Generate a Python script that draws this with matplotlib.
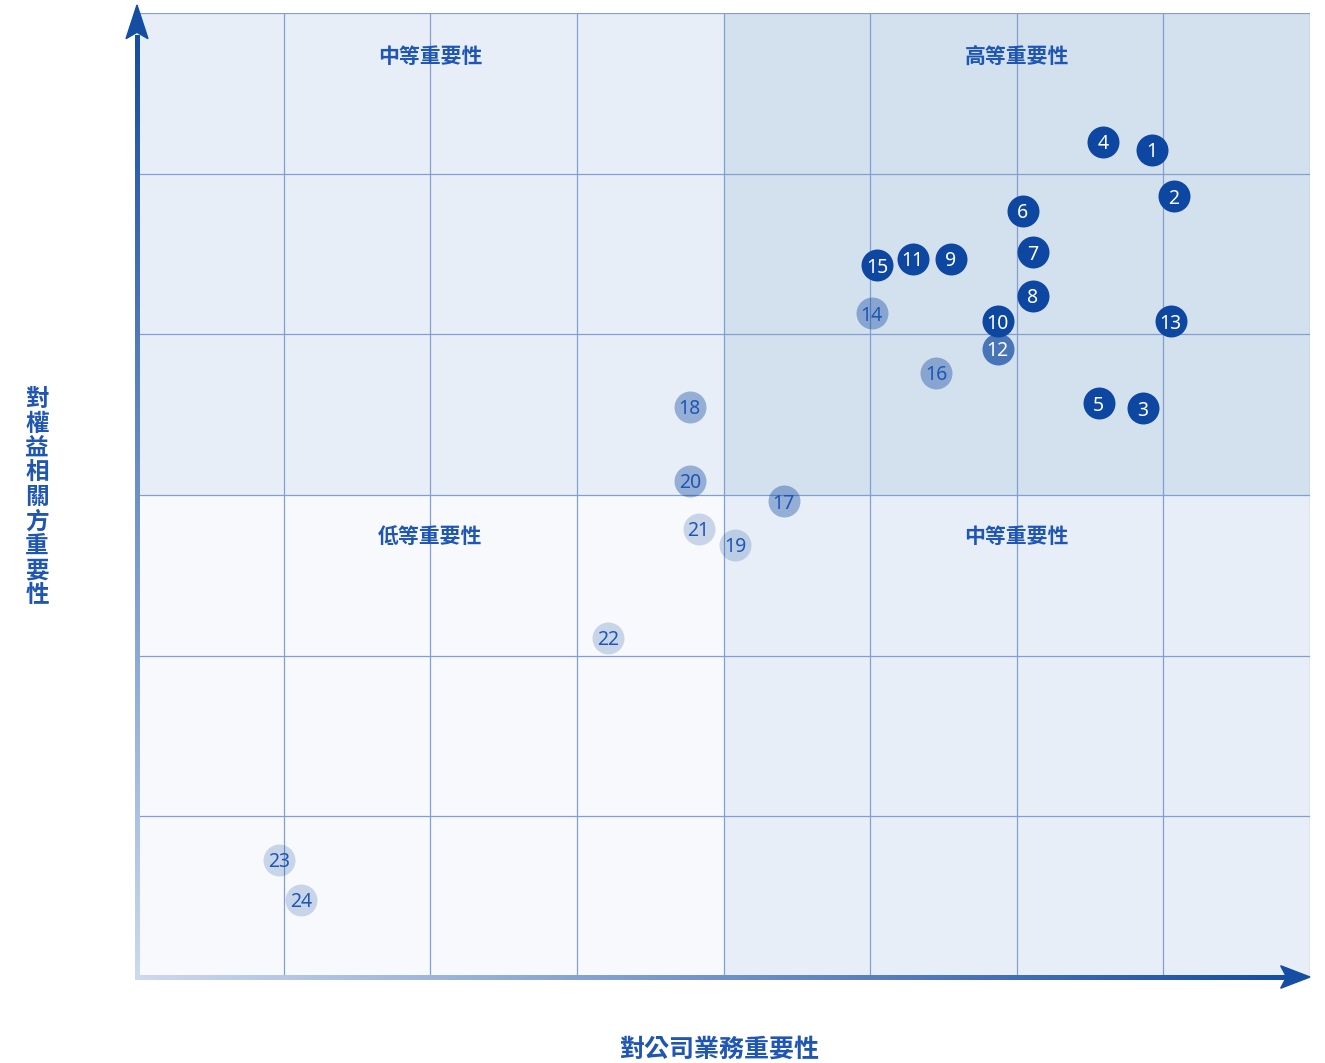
import numpy as np
import matplotlib.pyplot as plt
from matplotlib.collections import LineCollection
from matplotlib.patches import Polygon

plt.rcParams['font.family'] = ['Noto Sans CJK TC', 'DejaVu Sans']

# point data (x: importance to business, y: importance to stakeholders)
ids = [1, 2, 3, 4, 5, 6, 7, 8, 9, 10, 11, 12,
       13, 14, 15, 16, 17, 18, 19, 20, 21, 22, 23, 24]
x_vals = [6.92, 7.07, 6.86, 6.59, 6.56, 6.04, 6.11, 6.11, 5.55, 5.87, 5.29, 5.87,
          7.05, 5.01, 5.05, 5.45, 4.41, 3.77, 4.08, 3.77, 3.83, 3.21, 0.97, 1.12]
y_vals = [5.15, 4.86, 3.54, 5.20, 3.57, 4.77, 4.51, 4.24, 4.47, 4.08, 4.47, 3.91,
          4.08, 4.13, 4.43, 3.76, 2.96, 3.55, 2.69, 3.09, 2.79, 2.11, 0.73, 0.48]
# level: 3 = high, 2 = mid-high, 1 = mid, 0 = low
levels = [3, 3, 3, 3, 3, 3, 3, 3, 3, 3, 3, 2,
          3, 1, 3, 1, 1, 1, 0, 1, 0, 0, 0, 0]

quad_labels = ['中等重要性', '高等重要性', '低等重要性', '中等重要性']
x_label = '對公司業務重要性'
y_label = '對權益相關方重要性'

base = '#0d47a1'
text_blue = '#1f56b3'
alphas = {3: 1.0, 2: 0.7, 1: 0.38, 0: 0.2}

W, H = 1325, 1063
fig = plt.figure(figsize=(W / 100, H / 100), dpi=100)
ax = fig.add_axes([137 / W, 1 - 977 / H, (1310 - 137) / W, (977 - 13) / H])
ax.set_xlim(0, 8)
ax.set_ylim(0, 6)
ax.axis('off')

# quadrant backgrounds
ax.add_patch(plt.Rectangle((0, 3), 4, 3, color='#e7eef7', zorder=0, lw=0))
ax.add_patch(plt.Rectangle((4, 3), 4, 3, color='#d3e0ee', zorder=0, lw=0))
ax.add_patch(plt.Rectangle((0, 0), 4, 3, color='#f7f9fc', zorder=0, lw=0))
ax.add_patch(plt.Rectangle((4, 0), 4, 3, color='#e7eef7', zorder=0, lw=0))

# grid
grid_c = '#819fd2'
for gx in range(1, 9):
    ax.plot([gx, gx], [0, 6], color=grid_c, lw=0.9, zorder=1)
for gy in range(1, 7):
    ax.plot([0, 8], [gy, gy], color=grid_c, lw=0.9, zorder=1)

# quadrant labels
for (qx, qy), lab in zip([(2, 5.73), (6, 5.73), (2, 2.74), (6, 2.74)], quad_labels):
    ax.text(qx, qy, lab, ha='center', va='center', fontsize=15,
            fontweight='bold', color=text_blue)

# gradient axis arrows
light = np.array([0.80, 0.85, 0.93])
dark = np.array([0.08, 0.30, 0.63])
n = 300
cols = [light + (dark - light) * (i / n) for i in range(n)]
ty = np.linspace(0, 5.85, n + 1)
segs = [[(0, ty[i]), (0, ty[i + 1])] for i in range(n)]
ax.add_collection(LineCollection(segs, colors=cols, linewidths=3.5,
                                 clip_on=False, zorder=4, capstyle='projecting',
                                 antialiaseds=False))
ax.add_patch(Polygon([(-0.075, 5.84), (0, 6.05), (0.075, 5.84), (0, 5.88)],
                     closed=True, color=dark, clip_on=False, zorder=5))

tx = np.linspace(0, 7.85, n + 1)
segs = [[(tx[i], 0), (tx[i + 1], 0)] for i in range(n)]
ax.add_collection(LineCollection(segs, colors=cols, linewidths=3.5,
                                 clip_on=False, zorder=4, capstyle='projecting',
                                 antialiaseds=False))
ax.add_patch(Polygon([(7.8, -0.07), (8.0, 0), (7.8, 0.07), (7.84, 0)],
                     closed=True, color=dark, clip_on=False, zorder=5))

# points
for i, x, y, lv in zip(ids, x_vals, y_vals, levels):
    ax.scatter(x, y, s=530, color=base, alpha=alphas[lv], lw=0, zorder=6)
    tc = 'white' if lv >= 2 else text_blue
    ax.text(x, y - 0.015, str(i), ha='center', va='center', fontsize=14,
            color=tc, zorder=7, family=['Noto Sans', 'DejaVu Sans'])

# axis titles
fig.text(37 / W, 1 - 497 / H, '\n'.join(y_label), ha='center', va='center',
         fontsize=17, fontweight='bold', color=text_blue, linespacing=1.02)
fig.text(719 / W, 1 - 1050 / H, x_label, ha='center', va='center',
         fontsize=18, fontweight='bold', color=text_blue)

fig.savefig('out.png', dpi=100)
